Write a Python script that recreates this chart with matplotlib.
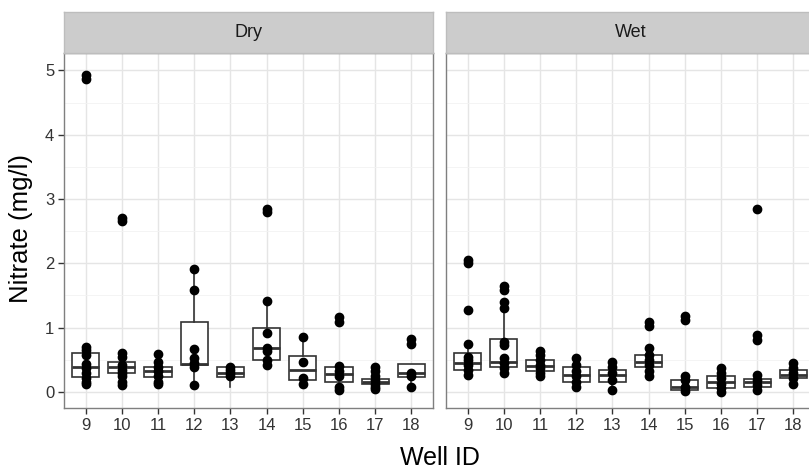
import numpy as np
import matplotlib.pyplot as plt

plt.rcParams['font.family'] = ['Liberation Sans', 'DejaVu Sans']

wells = [9, 10, 11, 12, 13, 14, 15, 16, 17, 18]
seasons = ['Dry', 'Wet']

# nitrate samples per well (mg/l)
dry_points = [
    [4.93, 4.87, 0.70, 0.65, 0.58, 0.44, 0.37, 0.29, 0.21, 0.16, 0.12],
    [2.70, 2.65, 0.60, 0.55, 0.42, 0.34, 0.29, 0.24, 0.16, 0.11],
    [0.59, 0.46, 0.39, 0.32, 0.24, 0.16, 0.13],
    [1.91, 1.59, 0.66, 0.52, 0.45, 0.39, 0.11],
    [0.38, 0.34, 0.29, 0.24],
    [2.85, 2.80, 1.41, 0.91, 0.68, 0.63, 0.49, 0.42],
    [0.86, 0.47, 0.21, 0.13],
    [1.16, 1.09, 0.40, 0.32, 0.25, 0.08, 0.03],
    [0.38, 0.32, 0.24, 0.19, 0.13, 0.08, 0.05],
    [0.82, 0.75, 0.29, 0.24, 0.08],
]
wet_points = [
    [2.05, 2.01, 1.28, 0.74, 0.55, 0.50, 0.42, 0.34, 0.26],
    [1.64, 1.59, 1.40, 1.30, 0.78, 0.73, 0.52, 0.45, 0.37, 0.29],
    [0.63, 0.58, 0.50, 0.42, 0.37, 0.29, 0.24],
    [0.52, 0.42, 0.32, 0.24, 0.16, 0.08],
    [0.47, 0.39, 0.29, 0.19, 0.03],
    [1.08, 1.03, 0.69, 0.58, 0.50, 0.42, 0.32, 0.25],
    [1.18, 1.12, 0.25, 0.19, 0.08, 0.01],
    [0.37, 0.30, 0.21, 0.13, 0.06, 0.00],
    [2.85, 0.89, 0.81, 0.26, 0.19, 0.11, 0.03],
    [0.45, 0.37, 0.29, 0.21, 0.13],
]

# box statistics as drawn
dry_q1 = [0.23, 0.30, 0.23, 0.42, 0.23, 0.49, 0.18, 0.15, 0.12, 0.23]
dry_med = [0.39, 0.39, 0.32, 0.44, 0.30, 0.68, 0.34, 0.28, 0.16, 0.30]
dry_q3 = [0.60, 0.46, 0.39, 1.08, 0.38, 0.99, 0.56, 0.39, 0.20, 0.43]
dry_lo = [0.12, 0.11, 0.13, 0.11, 0.08, 0.42, 0.13, 0.03, 0.05, 0.08]
dry_hi = [0.70, 0.60, 0.59, 1.91, 0.38, 1.41, 0.86, 0.40, 0.32, 0.43]

wet_q1 = [0.34, 0.38, 0.33, 0.16, 0.16, 0.38, 0.03, 0.06, 0.08, 0.21]
wet_med = [0.45, 0.47, 0.40, 0.26, 0.26, 0.47, 0.08, 0.15, 0.15, 0.27]
wet_q3 = [0.60, 0.82, 0.49, 0.38, 0.34, 0.58, 0.19, 0.24, 0.20, 0.34]
wet_lo = [0.26, 0.29, 0.24, 0.08, 0.03, 0.25, 0.01, 0.00, 0.03, 0.13]
wet_hi = [0.74, 1.40, 0.63, 0.52, 0.47, 0.69, 0.25, 0.37, 0.26, 0.45]

W, H = 809, 469
fig = plt.figure(figsize=(W / 100, H / 100), dpi=100)

panel_w = 369
panel_l = [64, 446]
panel_top, panel_bot = 53, 408
strip_top = 12

data = {
    'Dry': (dry_points, dry_q1, dry_med, dry_q3, dry_lo, dry_hi),
    'Wet': (wet_points, wet_q1, wet_med, wet_q3, wet_lo, wet_hi),
}

for k, season in enumerate(seasons):
    pts, q1, med, q3, lo, hi = data[season]
    ax = fig.add_axes([panel_l[k] / W, (H - panel_bot) / H,
                       panel_w / W, (panel_bot - panel_top) / H])
    stats = []
    for i in range(len(wells)):
        stats.append({'med': med[i], 'q1': q1[i], 'q3': q3[i],
                      'whislo': lo[i], 'whishi': hi[i], 'fliers': []})
    pos = np.arange(1, len(wells) + 1)
    ax.bxp(stats, positions=pos, widths=0.75, showcaps=False, showfliers=False,
           patch_artist=True,
           boxprops=dict(facecolor='white', edgecolor='#333333', linewidth=1.2),
           medianprops=dict(color='#333333', linewidth=2.0),
           whiskerprops=dict(color='#333333', linewidth=1.2),
           zorder=2)
    for i, p in enumerate(pts):
        ax.plot(np.full(len(p), pos[i]), p, 'o', color='black', ms=6,
                mec='black', zorder=3)

    ax.set_xlim(0.4, len(wells) + 0.6)
    ax.set_ylim(-0.25, 5.27)
    ax.set_xticks(pos)
    ax.set_xticklabels([str(w) for w in wells])
    ax.set_yticks([0, 1, 2, 3, 4, 5])
    ax.set_yticks(np.arange(0.5, 5.5, 1.0), minor=True)
    ax.grid(True, which='major', color='#e5e5e5', linewidth=1.0, zorder=0)
    ax.grid(True, which='minor', axis='y', color='#f2f2f2', linewidth=0.6, zorder=0)
    ax.set_axisbelow(True)
    ax.tick_params(which='minor', length=0)
    ax.tick_params(which='major', length=4, width=1, color='#333333',
                   labelcolor='#333333', labelsize=12, pad=3)
    for s in ax.spines.values():
        s.set_color('#7f7f7f')
        s.set_linewidth(1.0)
    if k > 0:
        ax.tick_params(axis='y', left=False, labelleft=False)

    # facet strip
    sx = fig.add_axes([panel_l[k] / W, (H - panel_top) / H,
                       panel_w / W, (panel_top - strip_top) / H])
    sx.set_facecolor('#cccccc')
    sx.set_xticks([])
    sx.set_yticks([])
    for s in sx.spines.values():
        s.set_color('#bdbdbd')
        s.set_linewidth(1.0)
    sx.text(0.5, 0.5, season, ha='center', va='center', fontsize=13,
            color='#1a1a1a', transform=sx.transAxes)

fig.text(439.5 / W, (H - 465) / H, 'Well ID', ha='center', va='baseline',
         fontsize=18, color='black')
fig.text(21 / W, (H - 228) / H, 'Nitrate (mg/l)', ha='center', va='center',
         rotation=90, fontsize=18.5, color='black')

fig.savefig('out.png', dpi=100)
